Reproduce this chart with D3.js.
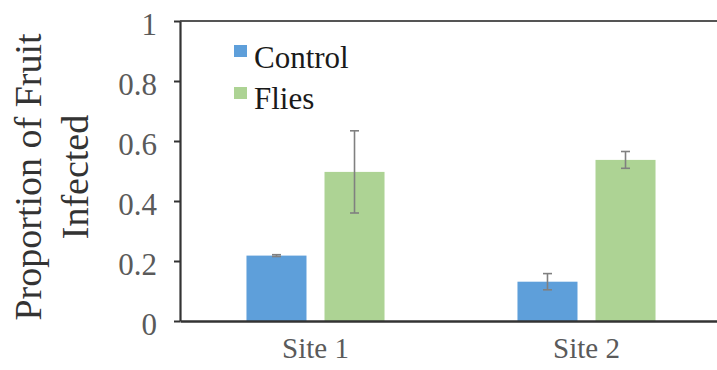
<!DOCTYPE html>
<html><head><meta charset="utf-8">
<script src="https://cdn.jsdelivr.net/npm/d3@7/dist/d3.min.js"></script>
<style>body{margin:0;background:#fff;} svg{display:block;} text{font-family:'Liberation Serif','Times New Roman',serif;}</style>
</head><body>
<svg id="c" width="717" height="370"></svg>
<script>
const sites = ["Site 1", "Site 2"];
const seriesNames = ["Control", "Flies"];
const controlValues = [0.218, 0.131];
const controlErrors = [0.003, 0.027];
const fliesValues = [0.497, 0.537];
const fliesErrors = [0.137, 0.028];
const yTicks = [0, 0.2, 0.4, 0.6, 0.8, 1];
const yTickLabels = ["0", "0.2", "0.4", "0.6", "0.8", "1"];
const colors = ["#5E9FDA", "#ADD394"];

const FONT = "'Liberation Serif', 'Times New Roman', serif";
const svg = d3.select("#c");
const plotLeft = 180, plotTop = 21, plotBottom = 321, plotRight = 722;

const y = d3.scaleLinear().domain([0, 1]).range([plotBottom, plotTop]);
const x0 = d3.scaleBand().domain(sites).range([plotLeft, plotRight]);
const x1 = d3.scaleBand().domain(seriesNames).range([0, x0.bandwidth()])
  .paddingInner(18/78).paddingOuter(0.852);

const data = sites.map((s, i) => ({
  site: s,
  vals: [
    {name: "Control", v: controlValues[i], e: controlErrors[i]},
    {name: "Flies", v: fliesValues[i], e: fliesErrors[i]}
  ]
}));

// top border
svg.append("line").attr("x1", plotLeft).attr("x2", 717).attr("y1", y(1)).attr("y2", y(1))
  .attr("stroke", "#555").attr("stroke-width", 2);

// bars
const g = svg.selectAll("g.site").data(data).enter().append("g")
  .attr("transform", d => `translate(${x0(d.site)},0)`);
g.selectAll("rect").data(d => d.vals).enter().append("rect")
  .attr("x", d => x1(d.name)).attr("width", x1.bandwidth())
  .attr("y", d => y(d.v)).attr("height", d => y(0) - y(d.v))
  .attr("fill", (d, i) => colors[i]);

// error bars
const eb = g.selectAll("g.err").data(d => d.vals).enter().append("g")
  .attr("stroke", "#808080").attr("stroke-width", 1.6);
const cx = d => x1(d.name) + x1.bandwidth()/2;
eb.append("line").attr("x1", cx).attr("x2", cx)
  .attr("y1", d => y(d.v + d.e)).attr("y2", d => y(d.v - d.e));
eb.append("line").attr("x1", d => cx(d) - 4.5).attr("x2", d => cx(d) + 4.5)
  .attr("y1", d => y(d.v + d.e)).attr("y2", d => y(d.v + d.e));
eb.append("line").attr("x1", d => cx(d) - 4.5).attr("x2", d => cx(d) + 4.5)
  .attr("y1", d => y(d.v - d.e)).attr("y2", d => y(d.v - d.e));

// y axis
const yAxis = d3.axisLeft(y).tickValues(yTicks).tickFormat((d, i) => yTickLabels[i])
  .tickSize(6).tickSizeOuter(0).tickPadding(17);
const ya = svg.append("g").attr("transform", `translate(${plotLeft},0)`).call(yAxis)
  .attr("font-family", FONT);
ya.select(".domain").attr("stroke", "#333").attr("stroke-width", 2.2);
ya.selectAll(".tick line").attr("stroke", "#333").attr("stroke-width", 2);
ya.selectAll(".tick text").style("font-family", FONT)
  .attr("font-size", 31).attr("fill", "#5a5a5a").attr("dy", "0.42em");

// x axis
const xAxis = d3.axisBottom(x0).tickSize(0).tickSizeOuter(0).tickPadding(16);
const xa = svg.append("g").attr("transform", `translate(0,${plotBottom})`).call(xAxis)
  .attr("font-family", FONT);
xa.select(".domain").attr("stroke", "#333").attr("stroke-width", 2.4);
xa.selectAll(".tick text").style("font-family", FONT)
  .attr("font-size", 29).attr("fill", "#5a5a5a").attr("dy", "0.71em");

// y title
const yt = svg.append("text").attr("transform", "translate(0,177) rotate(-90)")
  .attr("text-anchor", "middle").style("font-family", FONT)
  .attr("font-size", 38).attr("fill", "#333");
yt.append("tspan").attr("x", 0).attr("y", 41).text("Proportion of Fruit");
yt.append("tspan").attr("x", 0).attr("y", 88).text("Infected");

// legend
const leg = svg.append("g");
seriesNames.forEach((n, i) => {
  leg.append("rect").attr("x", 234).attr("y", 45 + i*42).attr("width", 13).attr("height", 12).attr("fill", colors[i]);
  leg.append("text").attr("x", 254).attr("y", 68 + i*41).text(n)
    .style("font-family", FONT).attr("font-size", 31).attr("fill", "#1a1a1a");
});
</script>
</body></html>
